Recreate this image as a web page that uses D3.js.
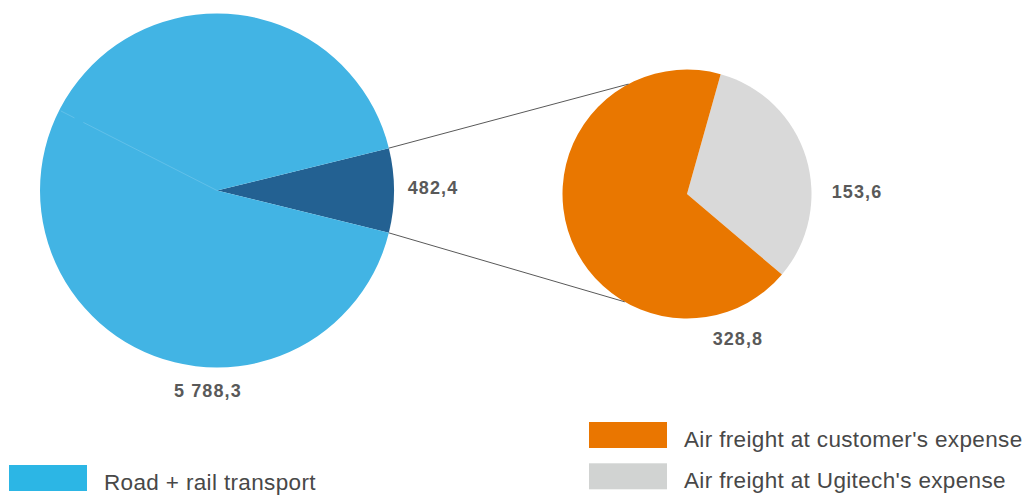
<!DOCTYPE html>
<html>
<head>
<meta charset="utf-8">
<script src="https://cdn.jsdelivr.net/npm/d3@7"></script>
<style>
  html, body { margin: 0; padding: 0; background: #ffffff; }
  svg { display: block; }
</style>
</head>
<body>
<svg id="chart" width="1034" height="495"></svg>
<script>
// Transport costs: main pie split into ground vs air, air broken out in the secondary pie
const mainCategories = ["Air freight", "Road + rail transport"];
const mainValues = [482.4, 5788.3];
const mainLabels = ["482,4", "5 788,3"];

const airCategories = ["Air freight at Ugitech's expense", "Air freight at customer's expense"];
const airValues = [153.6, 328.8];
const airLabels = ["153,6", "328,8"];

const legendTop = ["Air freight at customer's expense", "Air freight at Ugitech's expense"];
const legendBottom = ["Road + rail transport"];

const svg = d3.select("#chart");
const deg = Math.PI / 180;

const mainColor = d3.scaleOrdinal().domain(mainCategories).range(["#236192", "#42b4e4"]);
const airColor = d3.scaleOrdinal().domain(airCategories).range(["#d9d9d9", "#e97700"]);
const legendColor = d3.scaleOrdinal()
  .domain(["Road + rail transport", "Air freight at customer's expense", "Air freight at Ugitech's expense"])
  .range(["#2cb6e5", "#ea7600", "#d1d3d2"]);

// ---- main pie ----
const c1 = { x: 217, y: 190.5 }, r1 = 177;
const mainTotal = d3.sum(mainValues);
const airSweep = mainValues[0] / mainTotal * 2 * Math.PI;
const a0 = Math.PI / 2 - airSweep / 2; // air slice centred on 3 o'clock
const mainPie = d3.pie().sort(null).startAngle(a0).endAngle(a0 + 2 * Math.PI);
const mainArcs = mainPie(mainValues);
const arc1 = d3.arc().innerRadius(0).outerRadius(r1);

const g1 = svg.append("g").attr("transform", `translate(${c1.x},${c1.y})`);
g1.selectAll("path").data(mainArcs).join("path")
  .attr("d", arc1)
  .attr("fill", (d, i) => mainColor(mainCategories[i]));

// faint seam inside the large slice
const seamA = 297 * deg;
g1.append("line")
  .attr("x1", 0).attr("y1", 0)
  .attr("x2", r1 * Math.sin(seamA) * 0.99).attr("y2", -r1 * Math.cos(seamA) * 0.99)
  .attr("stroke", "#8fd2f0").attr("stroke-width", 0.5).attr("stroke-opacity", 0.8)
  .attr("stroke-dasharray", "150,10,30");

// ---- secondary pie ----
const c2 = { x: 687, y: 194 }, r2 = 124.5;
const airTotal = d3.sum(airValues);
const greySweep = airValues[0] / airTotal * 2 * Math.PI;
const b0 = 73 * deg - greySweep / 2;
const airPie = d3.pie().sort(null).startAngle(b0).endAngle(b0 + 2 * Math.PI);
const airArcs = airPie(airValues);
const arc2 = d3.arc().innerRadius(0).outerRadius(r2);

const g2 = svg.append("g").attr("transform", `translate(${c2.x},${c2.y})`);
g2.selectAll("path").data(airArcs).join("path")
  .attr("d", arc2)
  .attr("fill", (d, i) => airColor(airCategories[i]));

// ---- connector lines between the pies ----
const polar = (c, r, a) => [c.x + r * Math.sin(a), c.y - r * Math.cos(a)];
const airArc = mainArcs[0];
const connectors = [
  [polar(c1, r1, airArc.startAngle), polar(c2, r2, -28 * deg)],
  [polar(c1, r1, airArc.endAngle), polar(c2, r2, 210 * deg)]
];
svg.append("g").selectAll("line").data(connectors).join("line")
  .attr("x1", d => d[0][0]).attr("y1", d => d[0][1])
  .attr("x2", d => d[1][0]).attr("y2", d => d[1][1])
  .attr("stroke", "#595959").attr("stroke-width", 1);

// ---- value labels ----
const labelStyle = sel => sel
  .attr("font-family", "'Liberation Sans', Arial, sans-serif")
  .attr("font-weight", "bold")
  .attr("font-size", 18)
  .attr("letter-spacing", 1.1)
  .attr("fill", "#595959")
  .attr("text-anchor", "middle");

const mainLabelPos = [
  { a: 90 * deg, r: r1 + 39, dy: 3 },
  { a: 182.6 * deg, r: r1 + 24, dy: 6 }
];
svg.append("g").selectAll("text").data(mainLabels).join("text")
  .call(labelStyle)
  .attr("x", (d, i) => polar(c1, mainLabelPos[i].r, mainLabelPos[i].a)[0])
  .attr("y", (d, i) => polar(c1, mainLabelPos[i].r, mainLabelPos[i].a)[1] + mainLabelPos[i].dy)
  .text(d => d);

const airLabelPos = [
  { a: 90.5 * deg, r: r2 + 45.5, dy: 3 },
  { a: 160.6 * deg, r: r2 + 28.8, dy: 6 }
];
svg.append("g").selectAll("text").data(airLabels).join("text")
  .call(labelStyle)
  .attr("x", (d, i) => polar(c2, airLabelPos[i].r, airLabelPos[i].a)[0])
  .attr("y", (d, i) => polar(c2, airLabelPos[i].r, airLabelPos[i].a)[1] + airLabelPos[i].dy)
  .text(d => d);

// ---- legends ----
function legend(items, x, y, step) {
  const g = svg.append("g").attr("transform", `translate(${x},${y})`);
  const row = g.selectAll("g").data(items).join("g")
    .attr("transform", (d, i) => `translate(0,${i * step})`);
  row.append("rect")
    .attr("width", 78).attr("height", 26)
    .attr("fill", d => legendColor(d));
  row.append("text")
    .attr("x", 95).attr("y", 25)
    .attr("font-family", "'Liberation Sans', Arial, sans-serif")
    .attr("font-size", 22.5)
    .attr("letter-spacing", 0.35)
    .attr("fill", "#484848")
    .text(d => d);
}
legend(legendTop, 589, 422, 41.3);
legend(legendBottom, 9, 465, 0);
</script>
</body>
</html>
